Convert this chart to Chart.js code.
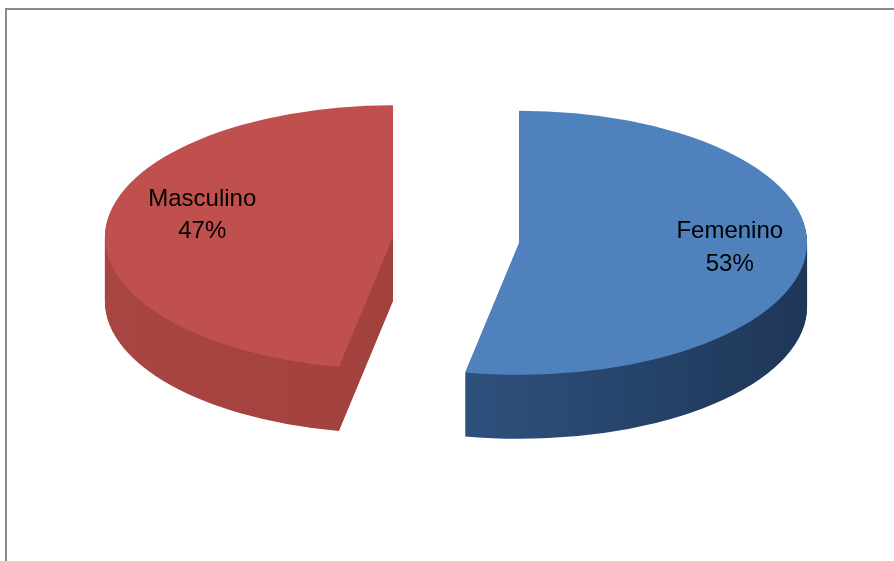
<!DOCTYPE html>
<html><head><meta charset="utf-8">
<script src="https://cdn.jsdelivr.net/npm/chart.js@4/dist/chart.umd.min.js"></script>
<style>
html,body{margin:0;padding:0;background:#fff;overflow:hidden}
#wrap{position:relative;width:894px;height:561px}
#frame{position:absolute;left:5px;top:8px;width:900px;height:600px;border-left:2px solid #8a8a8a;border-top:2px solid #8a8a8a;box-sizing:border-box}
canvas{position:absolute;left:0;top:0}
</style>
</head><body>
<div id="wrap"><div id="frame"></div><canvas id="c" width="894" height="561"></canvas></div>
<script>
// ---- data ----
const categories = ["Femenino", "Masculino"];
const values = [53, 47];
const topColors = ["#4F81BD", "#C0504D"];

// ---- 3D pie look (styles) ----
const look = {
  sx: 1.44, sy: 0.66,     // ellipse squash of the library's circular pie
  depth: 64,              // extrusion height in px
  explode: 44,            // slice separation (unscaled px)
  sideStops: [
    [["#3C6699", 0], ["#2A4A74", 0.55], ["#1C3150", 1]],
    [["#AA4643", 0], ["#A0403D", 0.6], ["#923634", 1]]
  ],
  labelRadius: 0.7,
  labelShift: [[10, -5], [10, -15]],
  font: "24px 'Liberation Sans', Arial, sans-serif"
};

function sliceTransform(ctx, el, cx, cy, lift) {
  const mid = (el.startAngle + el.endAngle) / 2;
  ctx.translate(cx, cy + lift);
  ctx.scale(look.sx, look.sy);
  ctx.translate(-cx + Math.cos(mid) * look.explode, -cy + Math.sin(mid) * look.explode);
}

const pie3d = {
  id: "pie3d",
  beforeDatasetsDraw(chart) {
    const ctx = chart.ctx;
    const meta = chart.getDatasetMeta(0);
    meta.data.forEach((el, i) => {
      const cx = el.x, cy = el.y, r = el.outerRadius;
      const g = ctx.createLinearGradient(cx - r - look.explode, 0, cx + r + look.explode, 0);
      look.sideStops[i].forEach(([c, p]) => g.addColorStop(p, c));
      const side = Object.create(el);
      side.options = Object.assign({}, el.options, { backgroundColor: g, borderWidth: 0 });
      for (let d = look.depth; d >= 1; d--) {
        ctx.save();
        sliceTransform(ctx, el, cx, cy, d);
        side.draw(ctx);
        ctx.restore();
      }
      const top = Object.create(el);
      top.options = Object.assign({}, el.options, { backgroundColor: topColors[i], borderWidth: 0 });
      ctx.save();
      sliceTransform(ctx, el, cx, cy, 0);
      top.draw(ctx);
      ctx.restore();
    });
    return false;
  },
  afterDraw(chart) {
    const ctx = chart.ctx;
    const meta = chart.getDatasetMeta(0);
    const total = values.reduce((a, b) => a + b, 0);
    meta.data.forEach((el, i) => {
      const mid = (el.startAngle + el.endAngle) / 2;
      const rr = el.outerRadius * look.labelRadius + look.explode;
      const x = el.x + look.sx * Math.cos(mid) * rr + look.labelShift[i][0];
      const y = el.y + look.sy * Math.sin(mid) * rr + look.labelShift[i][1];
      ctx.save();
      ctx.fillStyle = "#000";
      ctx.font = look.font;
      ctx.textAlign = "center";
      ctx.textBaseline = "alphabetic";
      ctx.fillText(categories[i], x, y - 8);
      ctx.fillText(Math.round(values[i] / total * 100) + "%", x, y + 24.5);
      ctx.restore();
    });
  }
};

new Chart(document.getElementById("c"), {
  type: "pie",
  data: {
    labels: categories,
    datasets: [{ data: values, backgroundColor: topColors, borderWidth: 0 }]
  },
  options: {
    responsive: false,
    animation: false,
    radius: 200,
    layout: { padding: { left: 18, bottom: 81 } },
    plugins: { legend: { display: false }, tooltip: { enabled: false } }
  },
  plugins: [pie3d]
});
</script>
</body></html>
